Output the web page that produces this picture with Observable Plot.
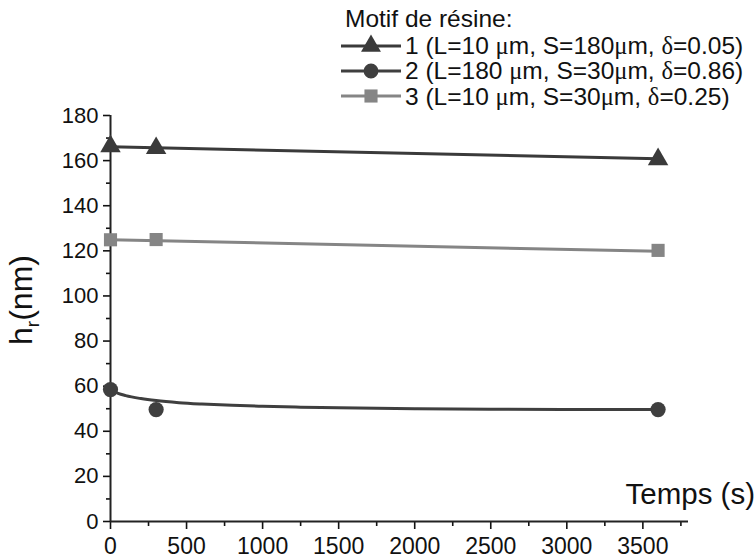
<!DOCTYPE html>
<html><head><meta charset="utf-8">
<script src="https://cdn.jsdelivr.net/npm/d3@7"></script>
<script src="https://cdn.jsdelivr.net/npm/@observablehq/plot@0.6"></script>
<style>
body{margin:0;background:#fff;}
#wrap{position:relative;width:756px;height:560px;font-family:"Liberation Sans",Arial,sans-serif;color:#111;overflow:hidden;}
#chart{position:absolute;left:0;top:0;}
.g{font-family:"Liberation Serif","DejaVu Serif",serif;}
#legend{position:absolute;left:340px;top:4px;font-size:24.5px;}
#legend .title{height:29px;line-height:29px;padding-left:5px;}
#legend .row{display:flex;align-items:center;height:25.3px;line-height:25.3px;white-space:nowrap;}
#legend svg{margin-right:3px;}
#xlab{position:absolute;right:1px;top:479px;font-size:29.5px;line-height:30px;white-space:nowrap;}
#ylab{position:absolute;left:27px;top:300px;font-size:32px;line-height:34px;white-space:nowrap;transform:translate(-50%,-50%) rotate(-90deg);}
#ylab sub{font-size:19px;vertical-align:-7px;}
</style></head>
<body>
<div id="wrap">
  <div id="chart"></div>
  <div id="legend"></div>
  <div id="xlab">Temps (s)</div>
  <div id="ylab">h<sub>r</sub>(nm)</div>
</div>
<script>
// Data
const seriesNames = ["1", "2", "3"];
const legendLabels = [
  '1 (L=10 <span class="g">μ</span>m, S=180<span class="g">μ</span>m, <span class="g">δ</span>=0.05)',
  '2 (L=180 <span class="g">μ</span>m, S=30<span class="g">μ</span>m, <span class="g">δ</span>=0.86)',
  '3 (L=10 <span class="g">μ</span>m, S=30<span class="g">μ</span>m, <span class="g">δ</span>=0.25)'
];
const time = [0, 300, 3600];
const hr1 = [166.3, 165.5, 160.6];
const hr2 = [58.5, 49.6, 49.6];
const hr3 = [124.9, 125, 120.2];
// fitted curves as drawn in the picture
const fitTime1 = [0, 3600];
const fitHr1 = [166.1, 160.8];
const fitTime3 = [0, 3600];
const fitHr3 = [124.9, 119.8];
const fitTime2 = [0, 50, 100, 200, 300, 450, 600, 800, 1000, 1250, 1500, 2000, 2500, 3000, 3600];
const fitHr2 = [58.5, 56.8, 55.8, 54.5, 53.6, 52.7, 52.1, 51.5, 51.1, 50.7, 50.4, 50.0, 49.8, 49.7, 49.6];
const xMajor = [0, 500, 1000, 1500, 2000, 2500, 3000, 3500];
const xMinor = [250, 750, 1250, 1750, 2250, 2750, 3250, 3750];
const yMajor = [0, 20, 40, 60, 80, 100, 120, 140, 160, 180];
const yMinor = [10, 30, 50, 70, 90, 110, 130, 150, 170];

const colors = ["#3a3a3a", "#3f3f3f", "#858585"];
const symbols = ["triangle", "circle", "square"];

const pts = (xs, ys) => xs.map((x, i) => ({x, y: ys[i]}));

const plot = Plot.plot({
  width: 756, height: 560,
  marginLeft: 110, marginRight: 68, marginTop: 115, marginBottom: 39,
  x: {domain: [0, 3800]},
  y: {domain: [0, 180]},
  style: {fontFamily: '"Liberation Sans", Arial, sans-serif', color: "#111", background: "transparent", overflow: "visible"},
  marks: [
    Plot.axisY(yMajor, {tickSize: 7, tickPadding: 5, fontSize: 22, label: null, strokeWidth: 1.6, tickFormat: "d"}),
    Plot.axisY(yMinor, {tickSize: 4, tickFormat: () => "", label: null, strokeWidth: 1.6}),
    Plot.axisX(xMajor, {tickSize: 8, tickPadding: 8, fontSize: 23, label: null, strokeWidth: 1.6, tickFormat: "d"}),
    Plot.axisX(xMinor, {tickSize: 5, tickFormat: () => "", label: null, strokeWidth: 1.6}),
    Plot.ruleY([0], {x1: 0, x2: 3800, stroke: "#222", strokeWidth: 2}),
    Plot.ruleX([0], {y1: 0, y2: 180, stroke: "#222", strokeWidth: 2}),
    Plot.line(pts(fitTime1, fitHr1), {x: "x", y: "y", stroke: colors[0], strokeWidth: 3}),
    Plot.line(pts(fitTime3, fitHr3), {x: "x", y: "y", stroke: colors[2], strokeWidth: 3}),
    Plot.line(pts(fitTime2, fitHr2), {x: "x", y: "y", stroke: colors[1], strokeWidth: 3, curve: "monotone-x"}),
    Plot.dot(pts(time, hr1), {x: "x", y: "y", symbol: symbols[0], fill: colors[0], r: 7.6}),
    Plot.dot(pts(time, hr2), {x: "x", y: "y", symbol: symbols[1], fill: colors[1], r: 7.6}),
    Plot.dot(pts(time, hr3), {x: "x", y: "y", symbol: symbols[2], fill: colors[2], r: 7.4})
  ]
});
document.getElementById("chart").appendChild(plot);

// Legend
const legend = document.getElementById("legend");
const t = document.createElement("div");
t.className = "title";
t.textContent = "Motif de résine:";
legend.appendChild(t);
seriesNames.forEach((name, i) => {
  const row = document.createElement("div");
  row.className = "row";
  const svg = d3.create("svg").attr("width", 62).attr("height", 24);
  svg.append("line").attr("x1", 1).attr("x2", 61).attr("y1", 12).attr("y2", 12)
    .attr("stroke", colors[i]).attr("stroke-width", 3);
  const sym = {triangle: d3.symbolTriangle, circle: d3.symbolCircle, square: d3.symbolSquare}[symbols[i]];
  svg.append("path").attr("transform", "translate(31,12)")
    .attr("d", d3.symbol(sym, Math.PI * 7.4 * 7.4)()).attr("fill", colors[i]);
  row.appendChild(svg.node());
  const span = document.createElement("span");
  span.innerHTML = legendLabels[i];
  row.appendChild(span);
  legend.appendChild(row);
});
</script>
</body></html>
